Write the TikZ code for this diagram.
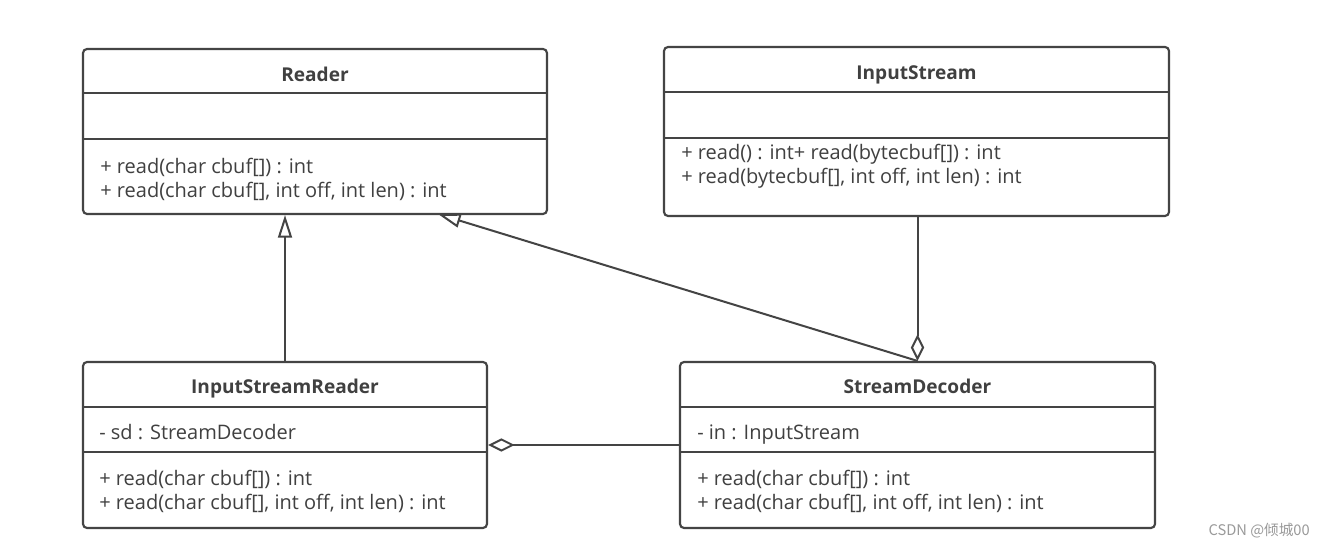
\documentclass[tikz,border=0pt]{standalone}
\usepackage{fontspec}
\setmainfont{Open Sans}
\newfontfamily\cjkfont{Noto Sans CJK SC}
\usetikzlibrary{arrows.meta,fit}
\definecolor{ln}{HTML}{444444}
\definecolor{tx}{HTML}{404040}
\definecolor{wm}{HTML}{9A9A9A}
\begin{document}
\begin{tikzpicture}[x=0.75pt,y=-0.75pt,
  cls/.style={draw=ln,line width=1.6pt,rounded corners=3pt,inner sep=0pt},
  div/.style={draw=ln,line width=1.6pt},
  ttl/.style={font=\fontsize{14.3}{16}\selectfont\bfseries,text=tx,inner sep=0pt,anchor=base},
  mem/.style={font=\fontsize{15}{17}\selectfont,text=tx,anchor=base west,inner sep=0pt},
  gen/.style={draw=ln,line width=1.5pt,-{Triangle[open,length=17pt,width=10.5pt]}},
  agg/.style={draw=ln,line width=1.5pt,{Diamond[open,length=20pt,width=10pt]}-}]
\useasboundingbox[fill=white] (0,0) rectangle (1318,548);
% Reader
\node[cls,fit={(83,49) (547,214)}] (reader) {};
\draw[div] (83,93) -- (547,93);
\draw[div] (83,139) -- (547,139);
\node[ttl] (readerT) at (315,82) {Reader};
\node[mem] (readerM1) at (100,174) {+ read(char cbuf[]) : int};
\node[mem] (readerM2) at (100,198) {+ read(char cbuf[], int off, int len) : int};
% InputStream
\node[cls,fit={(664,47) (1169,216)}] (is) {};
\draw[div] (664,92) -- (1169,92);
\draw[div] (664,138) -- (1169,138);
\node[ttl] (isT) at (916.5,80) {InputStream};
\node[mem] (isM1) at (681,160) {+ read() : int+ read(bytecbuf[]) : int};
\node[mem] (isM2) at (681,184) {+ read(bytecbuf[], int off, int len) : int};
% InputStreamReader
\node[cls,fit={(83,362) (487,528)}] (isr) {};
\draw[div] (83,407) -- (487,407);
\draw[div] (83,452) -- (487,452);
\node[ttl] (isrT) at (285,394) {InputStreamReader};
\node[mem] (isrA) at (99,440) {- sd : StreamDecoder};
\node[mem] (isrM1) at (99,486) {+ read(char cbuf[]) : int};
\node[mem] (isrM2) at (99,510) {+ read(char cbuf[], int off, int len) : int};
% StreamDecoder
\node[cls,fit={(680,362) (1155,528)}] (sd) {};
\draw[div] (680,407) -- (1155,407);
\draw[div] (680,452) -- (1155,452);
\node[ttl] (sdT) at (917.5,394) {StreamDecoder};
\node[mem] (sdA) at (697,440) {- in : InputStream};
\node[mem] (sdM1) at (697,486) {+ read(char cbuf[]) : int};
\node[mem] (sdM2) at (697,510) {+ read(char cbuf[], int off, int len) : int};
% connectors
\draw[gen] (isr.north) -- (isr.north |- reader.south);
\coordinate (rdrTip) at (438,214);
\draw[gen] (sd.north) -- (rdrTip);
\draw[agg] (sd.north) -- (sd.north |- is.south);
\draw[agg] (isr.east) -- (sd.west);
% watermark
\node[font=\cjkfont\fontsize{11}{13}\selectfont,text=wm,anchor=east,inner sep=0pt] (wmk) at (1310,531) {CSDN @倾城00};
\end{tikzpicture}
\end{document}
